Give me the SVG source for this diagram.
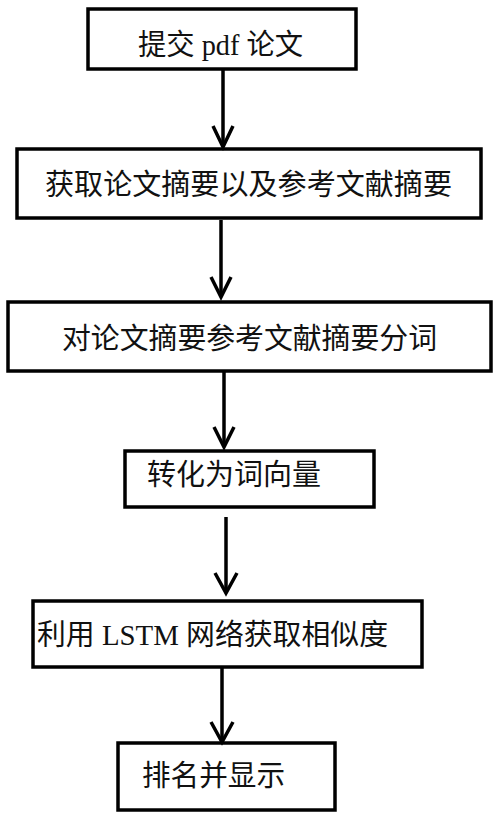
<svg xmlns="http://www.w3.org/2000/svg" width="500" height="821" viewBox="0 0 500 821">
<style>
.box{fill:#fff;stroke:#000;stroke-width:3.5}
.lbl{font-family:"Liberation Serif","Noto Sans CJK SC",serif;font-size:29px;fill:#111}
.conn{stroke:#000;stroke-width:3.5;fill:none}
.head{stroke:#000;stroke-width:3.5;fill:none;stroke-linejoin:miter}
</style>
<rect width="500" height="821" fill="#fff"/>
<g id="n1"><rect class="box" x="88" y="9" width="268" height="60"/><text class="lbl" x="138" y="55" textLength="165" lengthAdjust="spacingAndGlyphs">提交 pdf 论文</text></g>
<g id="n2"><rect class="box" x="17" y="149" width="464" height="69"/><text class="lbl" x="45" y="195" textLength="407" lengthAdjust="spacingAndGlyphs">获取论文摘要以及参考文献摘要</text></g>
<g id="n3"><rect class="box" x="8" y="302" width="483" height="69"/><text class="lbl" x="62" y="349" textLength="375" lengthAdjust="spacingAndGlyphs">对论文摘要参考文献摘要分词</text></g>
<g id="n4"><rect class="box" x="125" y="451" width="249" height="56"/><text class="lbl" x="147" y="485" textLength="174" lengthAdjust="spacingAndGlyphs">转化为词向量</text></g>
<g id="n5"><rect class="box" x="33" y="601" width="389" height="66"/><text class="lbl" x="37" y="645" textLength="351" lengthAdjust="spacingAndGlyphs">利用 LSTM 网络获取相似度</text></g>
<g id="n6"><rect class="box" x="118" y="743" width="217" height="67"/><text class="lbl" x="142" y="786" textLength="143" lengthAdjust="spacingAndGlyphs">排名并显示</text></g>
<g id="connectors">
<path class="conn" d="M223,69 V147"/><path class="head" d="M213,126 L223,147 L233,126"/>
<path class="conn" d="M221,220 V297"/><path class="head" d="M211,277 L221,297 L231,277"/>
<path class="conn" d="M224,371 V447"/><path class="head" d="M214,427 L224,447 L234,427"/>
<path class="conn" d="M226,517 V593"/><path class="head" d="M215,573 L226,593 L237,573"/>
<path class="conn" d="M222,667 V742"/><path class="head" d="M211,722 L222,742 L233,722"/>
</g>
</svg>
